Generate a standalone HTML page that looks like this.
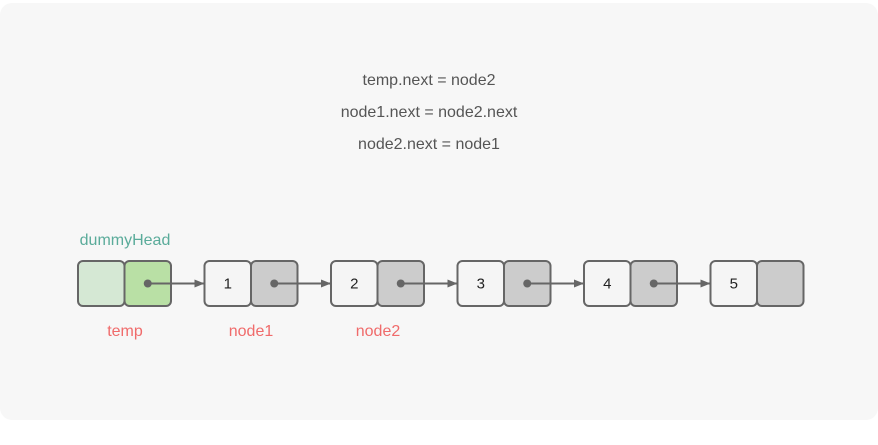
<!DOCTYPE html>
<html><head><style>
html,body{margin:0;padding:0;background:#fff;}
body{width:878px;height:440px;overflow:hidden;font-family:"Liberation Sans",Arial,sans-serif;}
</style></head><body>
<svg width="878" height="440" xmlns="http://www.w3.org/2000/svg">
<defs><marker id="ah" markerWidth="10" markerHeight="8" refX="9" refY="4" orient="auto" markerUnits="userSpaceOnUse"><path d="M0,0 L10,4 L0,8 z" fill="#666"/></marker></defs>
<rect x="0" y="3" width="878" height="417" rx="12" fill="#f7f7f7"/>
<g font-size="16" fill="#555" text-anchor="middle">
<text x="429" y="85">temp.next = node2</text>
<text x="429" y="117">node1.next = node2.next</text>
<text x="429" y="149">node2.next = node1</text>
</g>
<text x="125" y="245" font-size="16" fill="#5aab9a" text-anchor="middle">dummyHead</text>
<g id="nodes"></g>
<g font-size="16" fill="#f06b6b" text-anchor="middle">
<text x="125" y="336">temp</text>
<text x="251" y="336">node1</text>
<text x="378" y="336">node2</text>
</g>
</svg>
<script>
const values=["","1","2","3","4","5"];
const g=document.getElementById('nodes');
const NS="http://www.w3.org/2000/svg";
const x0=78,step=126.5,w=93,h=45,y=261;
function mk(t,a){const e=document.createElementNS(NS,t);for(const k in a)e.setAttribute(k,a[k]);g.appendChild(e);return e;}
values.forEach((v,i)=>{
  const x=x0+i*step;
  const dummy=i===0;
  const l=mk('rect',{x:x,y:y,width:w/2,height:h,rx:5,fill:dummy?'#d5e8d4':'#f5f5f5',stroke:'#666','stroke-width':2});
  
  
  const r=mk('rect',{x:x+w/2,y:y,width:w/2,height:h,rx:5,fill:dummy?'#b9e0a5':'#cccccc',stroke:'#666','stroke-width':2});
  
  
  if(v){const t=mk('text',{x:x+w/4,y:y+h/2+5,'font-size':15,'text-anchor':'middle',fill:'#222'});t.textContent=v;
    
    }
  if(i<values.length-1){
    const cx=x+w*0.75;
    const d=mk('circle',{cx:cx,cy:y+h/2,r:4,fill:'#666'});
    
    
    const a=mk('line',{x1:cx,y1:y+h/2,x2:x+step-1,y2:y+h/2,stroke:'#666','stroke-width':2,'marker-end':'url(#ah)'});
    
    
  }
});
</script>
</body></html>
